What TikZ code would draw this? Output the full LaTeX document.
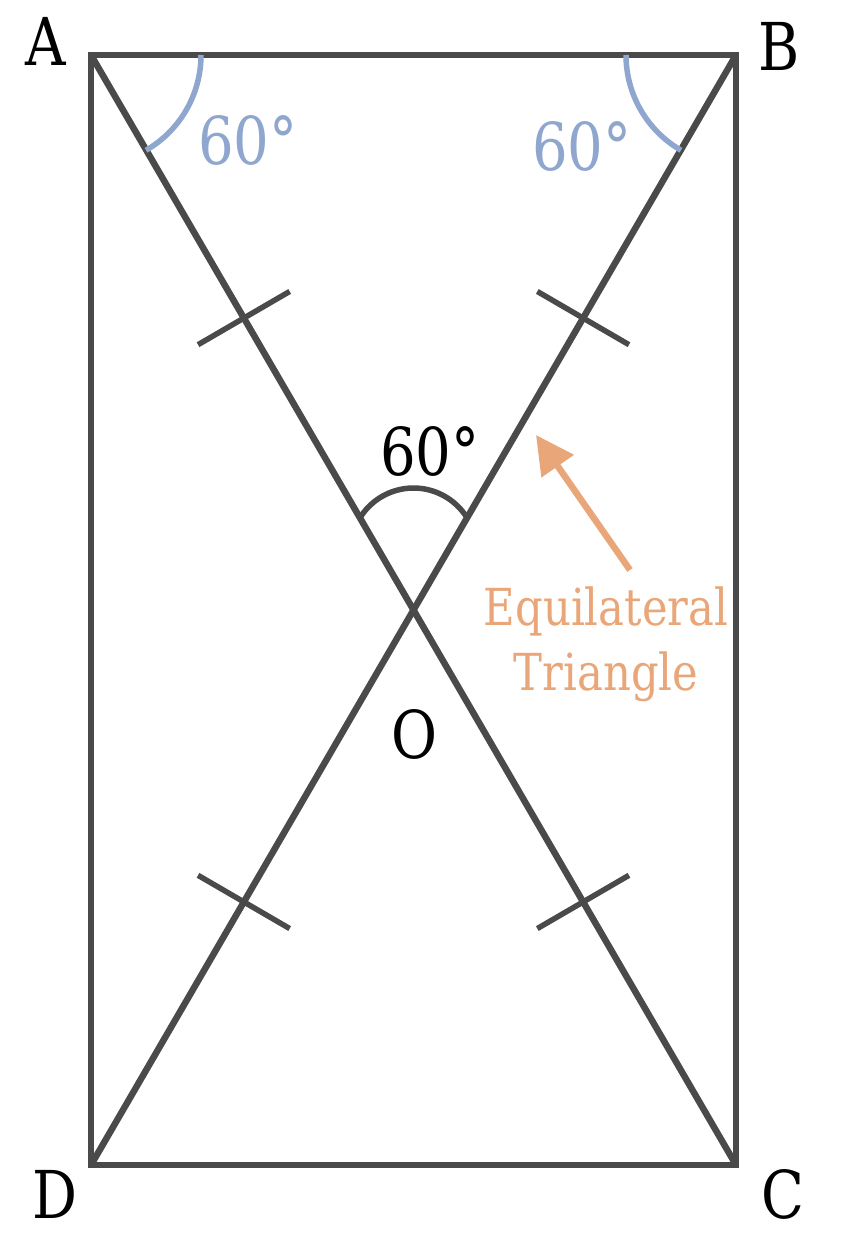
\documentclass[tikz,border=0pt]{standalone}
\usepackage{fontspec}
\setmainfont{DejaVu Serif}[FakeStretch=0.85]
\usetikzlibrary{calc,arrows.meta}
\definecolor{edgegray}{RGB}{74,74,74}
\definecolor{angblue}{RGB}{143,167,207}
\definecolor{notecol}{RGB}{233,166,120}
\begin{document}
\begin{tikzpicture}[x=1pt,y=-1pt,
  edge/.style={draw=edgegray,line width=6.5pt},
  tickmark/.style={draw=edgegray,line width=5.5pt},
  bluearc/.style={draw=angblue,line width=5.5pt},
  vlabel/.style={font=\fontsize{66}{70}\selectfont,text=black,inner sep=0pt},
  bluelabel/.style={font=\fontsize{66}{70}\selectfont,text=angblue,inner sep=0pt},
  note/.style={font=\fontsize{51}{65}\selectfont,text=notecol,inner sep=0pt,align=center}]
\useasboundingbox[fill=white] (0,0) rectangle (862,1248);
\coordinate (A) at (91,55);
\coordinate (B) at (736,55);
\coordinate (C) at (736,1165);
\coordinate (D) at (91,1165);
\coordinate (O) at (413.5,610);
% rectangle and diagonals
\draw[edge,line join=miter] (A) -- (B) -- (C) -- (D) -- cycle;
\draw[edge] (A) -- (C);
\draw[edge] (B) -- (D);
% tick marks
\foreach \p/\q/\n in {A/C/t1, B/D/t2, D/B/t3, C/A/t4}{
  \coordinate (\n) at ($(\p)!0.237!(\q)$);
  \draw[tickmark] ($(\n)!53pt!90:(\q)$) -- ($(\n)!53pt!-90:(\q)$);
}
% blue angle arcs
\draw[bluearc] (A) ++(110pt,0pt) arc[start angle=0,end angle=-60,radius=110pt];
\draw[bluearc] (B) ++(-110pt,0pt) arc[start angle=180,end angle=240,radius=110pt];
% angle arc at O
\coordinate (oc) at (413.5,551);
\draw[edge,line width=5.5pt] (oc) ++(147:63pt) arc[start angle=147,end angle=33,radius=63pt];
% labels
\node[vlabel] (lA) at (46,41) {A};
\node[vlabel] (lB) at (779,46) {B};
\node[vlabel] (lC) at (783,1194) {C};
\node[vlabel] (lD) at (55,1194) {D};
\node[vlabel] (lO) at (414,734) {O};
\node[vlabel] (ang) at (430,451) {60°};
\node[bluelabel] (angA) at (248,140) {60°};
\node[bluelabel] (angB) at (582,146) {60°};
\node[note] (eq) at (606,644) {Equilateral\\Triangle};
\coordinate (tail) at (630,570);
\coordinate (tip) at (536,435);
\draw[draw=notecol,line width=6.5pt,-{Triangle[length=38pt,width=38pt]}] (tail) -- (tip);
\end{tikzpicture}
\end{document}
